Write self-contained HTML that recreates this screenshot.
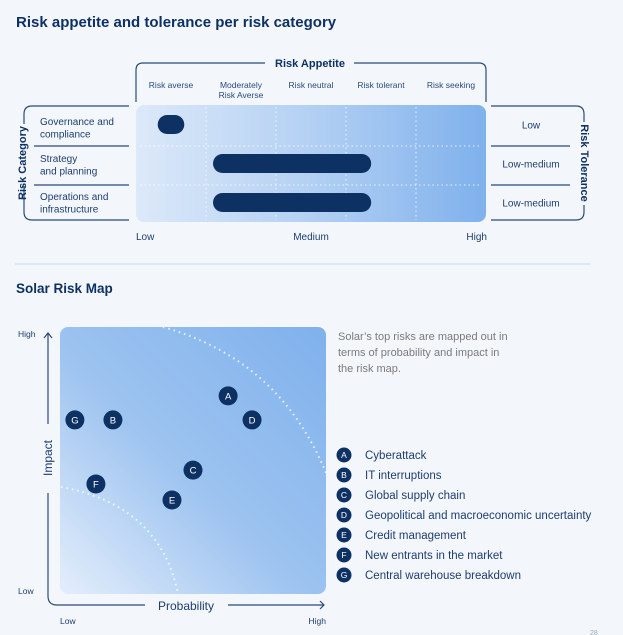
<!DOCTYPE html>
<html><head><meta charset="utf-8"><style>
body{margin:0;background:#f3f7fc;}
svg{display:block;font-family:"Liberation Sans",sans-serif;}
</style></head><body>
<svg id="chart" width="623" height="635" viewBox="0 0 623 635">
<defs>
<linearGradient id="g1" x1="0" y1="0" x2="1" y2="0">
<stop offset="0" stop-color="#dce9f9"/><stop offset="0.5" stop-color="#b3d0f3"/><stop offset="1" stop-color="#7fb1ec"/></linearGradient>
<linearGradient id="g2" x1="0" y1="1" x2="1" y2="0">
<stop offset="0" stop-color="#e3eefb"/><stop offset="0.45" stop-color="#9ec4f0"/><stop offset="1" stop-color="#7fb1ec"/></linearGradient>
</defs>
<text x="16" y="27" font-size="15" font-weight="bold" fill="#0e3163">Risk appetite and tolerance per risk category</text>
<!-- Risk appetite bracket -->
<path d="M136,102 V70 Q136,63 143,63 H265 M354,63 H479 Q486,63 486,70 V102" fill="none" stroke="#2a4a7a" stroke-width="1.2"/>
<text x="310" y="67" font-size="11" font-weight="bold" fill="#0e3163" text-anchor="middle">Risk Appetite</text>
<g id="cols" font-size="8.5" fill="#2a4a7a" text-anchor="middle"></g>
<rect x="136" y="105" width="350" height="117" rx="8" fill="url(#g1)"/>
<g id="grid" stroke="#fff" stroke-width="1" stroke-dasharray="1.5,3" opacity="0.8"></g>
<!-- left bracket -->
<path d="M129,106 H32 Q24,106 24,114 V124 M24,186 V212 Q24,220 32,220 H129 M34,146 H129 M34,185 H129" fill="none" stroke="#2a4a7a" stroke-width="1.2"/>
<text transform="translate(26,163) rotate(-90)" font-size="11" font-weight="bold" fill="#0e3163" text-anchor="middle">Risk Category</text>
<g font-size="10" fill="#1e3d6e">
<text x="40" y="125">Governance and<tspan x="40" dy="12.5">compliance</tspan></text>
<text x="40" y="162">Strategy<tspan x="40" dy="12.5">and planning</tspan></text>
<text x="40" y="200">Operations and<tspan x="40" dy="12.5">infrastructure</tspan></text>
</g>
<path d="M491,106 H576 Q584,106 584,114 V122 M584,205 V212 Q584,220 576,220 H491 M491,146 H570 M491,185 H570" fill="none" stroke="#2a4a7a" stroke-width="1.2"/>
<text transform="translate(581,163) rotate(90)" font-size="11" font-weight="bold" fill="#0e3163" text-anchor="middle">Risk Tolerance</text>
<g id="tol" font-size="10" fill="#1e3d6e" text-anchor="middle"></g>
<g id="bars"></g>
<g font-size="10" fill="#1e3d6e">
<text x="136" y="240">Low</text>
<text x="311" y="240" text-anchor="middle">Medium</text>
<text x="487" y="240" text-anchor="end">High</text>
</g>
<line x1="15" y1="264" x2="590" y2="264" stroke="#c8d8ec" stroke-width="1"/>
<text x="16" y="293" font-size="13.5" font-weight="bold" fill="#0e3163">Solar Risk Map</text>
<!-- risk map -->
<rect x="60" y="327" width="266" height="267" rx="8" fill="url(#g2)"/>
<path d="M163,327 Q280,360 326,473" fill="none" stroke="#fff" stroke-width="2" stroke-dasharray="1.5,4" opacity="0.8"/>
<path d="M61,487 Q160,505 178,594" fill="none" stroke="#fff" stroke-width="2" stroke-dasharray="1.5,4" opacity="0.8"/>
<path d="M48,333 V492 M48,493 M48,493 M48,493" fill="none"/>
<path d="M48,334 V424 M48,493 V596 Q48,605 57,605 H145 M228,605 H324 M44,338 L48,333 L52,338 M320,601 L324,605 L320,609" fill="none" stroke="#2a4a7a" stroke-width="1.2"/>
<text transform="translate(52,458) rotate(-90)" font-size="12" fill="#1e3d6e" text-anchor="middle">Impact</text>
<text x="186" y="610" font-size="12" fill="#1e3d6e" text-anchor="middle">Probability</text>
<g font-size="8.5" fill="#1e3d6e">
<text x="18" y="337">High</text>
<text x="18" y="594">Low</text>
<text x="60" y="624">Low</text>
<text x="326" y="624" text-anchor="end">High</text>
</g>
<g id="points"></g>
<text x="338" y="340" font-size="11" fill="#7a7a7a">Solar’s top risks are mapped out in<tspan x="338" dy="16">terms of probability and impact in</tspan><tspan x="338" dy="16">the risk map.</tspan></text>
<g id="legend"></g>
<text x="590" y="635" font-size="7" fill="#9ab">28</text>
</svg>
<script>
const NS="http://www.w3.org/2000/svg";
const appetiteLevels=["Risk averse","Moderately|Risk Averse","Risk neutral","Risk tolerant","Risk seeking"];
const categories=["Governance and compliance","Strategy and planning","Operations and infrastructure"];
const appetiteStart=[0.31,1.1,1.1];
const appetiteEnd=[0.69,3.36,3.36];
const tolerances=["Low","Low-medium","Low-medium"];
const riskIds=["A","B","C","D","E","F","G"];
const riskNames=["Cyberattack","IT interruptions","Global supply chain","Geopolitical and macroeconomic uncertainty","Credit management","New entrants in the market","Central warehouse breakdown"];
const probability=[6.32,1.99,5.0,7.22,4.21,1.35,0.56];
const impact=[7.42,6.52,4.64,6.52,3.52,4.12,6.52];

function mk(tag,attrs,parent){const e=document.createElementNS(NS,tag);for(const k in attrs)e.setAttribute(k,attrs[k]);parent.appendChild(e);return e;}
// top chart scales
const gx0=136,gw=350,gy0=105,rowH=39;
const ax=v=>gx0+v*gw/appetiteLevels.length;
const ry=i=>gy0+i*rowH+rowH/2;
const cols=document.getElementById('cols');
appetiteLevels.forEach((l,i)=>{
  const t=mk('text',{x:ax(i+0.5),y:88},cols);
  
  
  const parts=l.split('|');
  parts.forEach((p,j)=>{const s=mk('tspan',{x:ax(i+0.5),dy:j?10:0},t);s.textContent=p;});
});
const grid=document.getElementById('grid');
for(let i=1;i<appetiteLevels.length;i++){const l=mk('line',{x1:ax(i),x2:ax(i),y1:gy0+2,y2:gy0+115},grid);

}
for(let i=1;i<categories.length;i++){const l=mk('line',{x1:gx0+4,x2:gx0+346,y1:gy0+i*rowH+2,y2:gy0+i*rowH+2},grid);

}
const bars=document.getElementById('bars');
categories.forEach((c,i)=>{
  const x1=ax(appetiteStart[i]),x2=ax(appetiteEnd[i]);
  const r=mk('rect',{x:x1,y:ry(i)-9.5,width:x2-x1,height:19,rx:9.5,fill:'#0e3163'},bars);
  
  
});
const tol=document.getElementById('tol');
tolerances.forEach((t,i)=>{const e=mk('text',{x:531,y:ry(i)+4},tol);e.textContent=t;

});
// risk map scales
const mx=v=>60+v*26.6, my=v=>594-v*26.7;
const pts=document.getElementById('points');
riskIds.forEach((id,i)=>{
  const g=mk('g',{},pts);
  
  
  mk('circle',{cx:mx(probability[i]),cy:my(impact[i]),r:9.5,fill:'#0e3163'},g);
  const t=mk('text',{x:mx(probability[i]),y:my(impact[i])+3.5,'font-size':9.5,fill:'#fff','text-anchor':'middle'},g);t.textContent=id;
});
const leg=document.getElementById('legend');
riskIds.forEach((id,i)=>{
  const y=455+i*20;
  const g=mk('g',{},leg);
  
  
  mk('circle',{cx:344,cy:y,r:7.5,fill:'#0e3163'},g);
  const a=mk('text',{x:344,y:y+3.2,'font-size':8.5,fill:'#fff','text-anchor':'middle'},g);a.textContent=id;
  const t=mk('text',{x:365,y:y+4,'font-size':11.5,fill:'#1e3d6e'},g);t.textContent=riskNames[i];
});
</script>
</body></html>
